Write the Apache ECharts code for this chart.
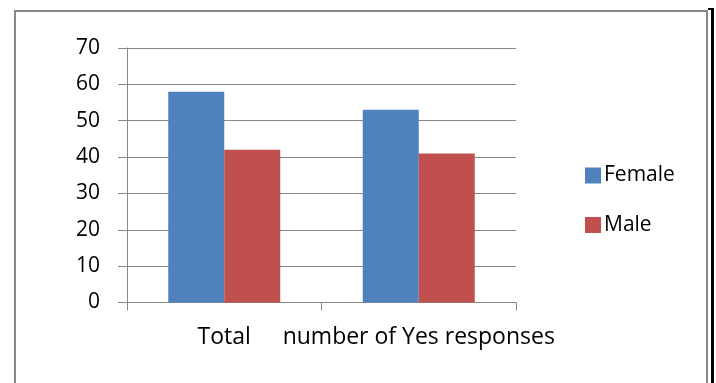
<!DOCTYPE html>
<html>
<head>
<meta charset="utf-8">
<script src="https://cdn.jsdelivr.net/npm/echarts@6/dist/echarts.min.js"></script>
<style>
  html, body { margin: 0; padding: 0; background: #fff; }
  #chart { width: 716px; height: 383px; }
</style>
</head>
<body>
<div id="chart"></div>
<script>
// Survey answers split by gender
const categories = ['Total', 'number of Yes responses'];
const female = [58, 53];
const male = [42, 41];
const yTicks = [0, 10, 20, 30, 40, 50, 60, 70];

const FONT = 'Open Sans';
const AXIS_GRAY = '#888888';

const chart = echarts.init(document.getElementById('chart'), null, { renderer: 'canvas' });

chart.setOption({
  backgroundColor: '#ffffff',
  animation: false,
  textStyle: { fontFamily: FONT },
  graphic: [
    // outer frame
    { type: 'rect', shape: { x: 14, y: 10, width: 2, height: 373 }, style: { fill: AXIS_GRAY } },
    { type: 'rect', shape: { x: 14, y: 10, width: 694, height: 2 }, style: { fill: AXIS_GRAY } },
    { type: 'rect', shape: { x: 706, y: 10, width: 2, height: 373 }, style: { fill: AXIS_GRAY } },
    { type: 'rect', shape: { x: 711, y: 8, width: 3, height: 375 }, style: { fill: '#000000' } },
    { type: 'rect', shape: { x: 708, y: 8, width: 6, height: 2 }, style: { fill: '#000000' } }
  ],
  legend: {
    orient: 'vertical',
    left: 580,
    top: 160,
    itemWidth: 16,
    itemHeight: 16,
    itemGap: 28.5,
    icon: 'rect',
    textStyle: { fontFamily: FONT, fontSize: 21, color: '#000', lineHeight: 20, padding: [0, 0, 0, -2] },
    data: ['Female', 'Male']
  },
  grid: { left: 127, top: 48, width: 389, height: 254.5, containLabel: false },
  xAxis: {
    type: 'category',
    data: categories,
    axisLine: { show: true, lineStyle: { color: AXIS_GRAY, width: 1 } },
    axisTick: { show: true, length: 8, interval: 0, lineStyle: { color: AXIS_GRAY } },
    axisLabel: { interval: 0, margin: 23, fontFamily: FONT, fontSize: 23, color: '#000' },
    splitLine: { show: false }
  },
  yAxis: {
    type: 'value',
    min: yTicks[0],
    max: yTicks[yTicks.length - 1],
    interval: 10,
    axisLine: { show: true, lineStyle: { color: AXIS_GRAY, width: 1 } },
    axisTick: { show: true, length: 9, lineStyle: { color: AXIS_GRAY } },
    axisLabel: { margin: 27, fontFamily: FONT, fontSize: 21, color: '#000' },
    splitLine: { show: true, lineStyle: { color: AXIS_GRAY, width: 1 } }
  },
  series: [
    {
      name: 'Female',
      type: 'bar',
      data: female,
      barWidth: 56,
      barGap: '0%',
      itemStyle: { color: '#4F81BD' }
    },
    {
      name: 'Male',
      type: 'bar',
      data: male,
      barWidth: 56,
      barGap: '0%',
      itemStyle: { color: '#C0504D' }
    }
  ]
});
</script>
</body>
</html>
